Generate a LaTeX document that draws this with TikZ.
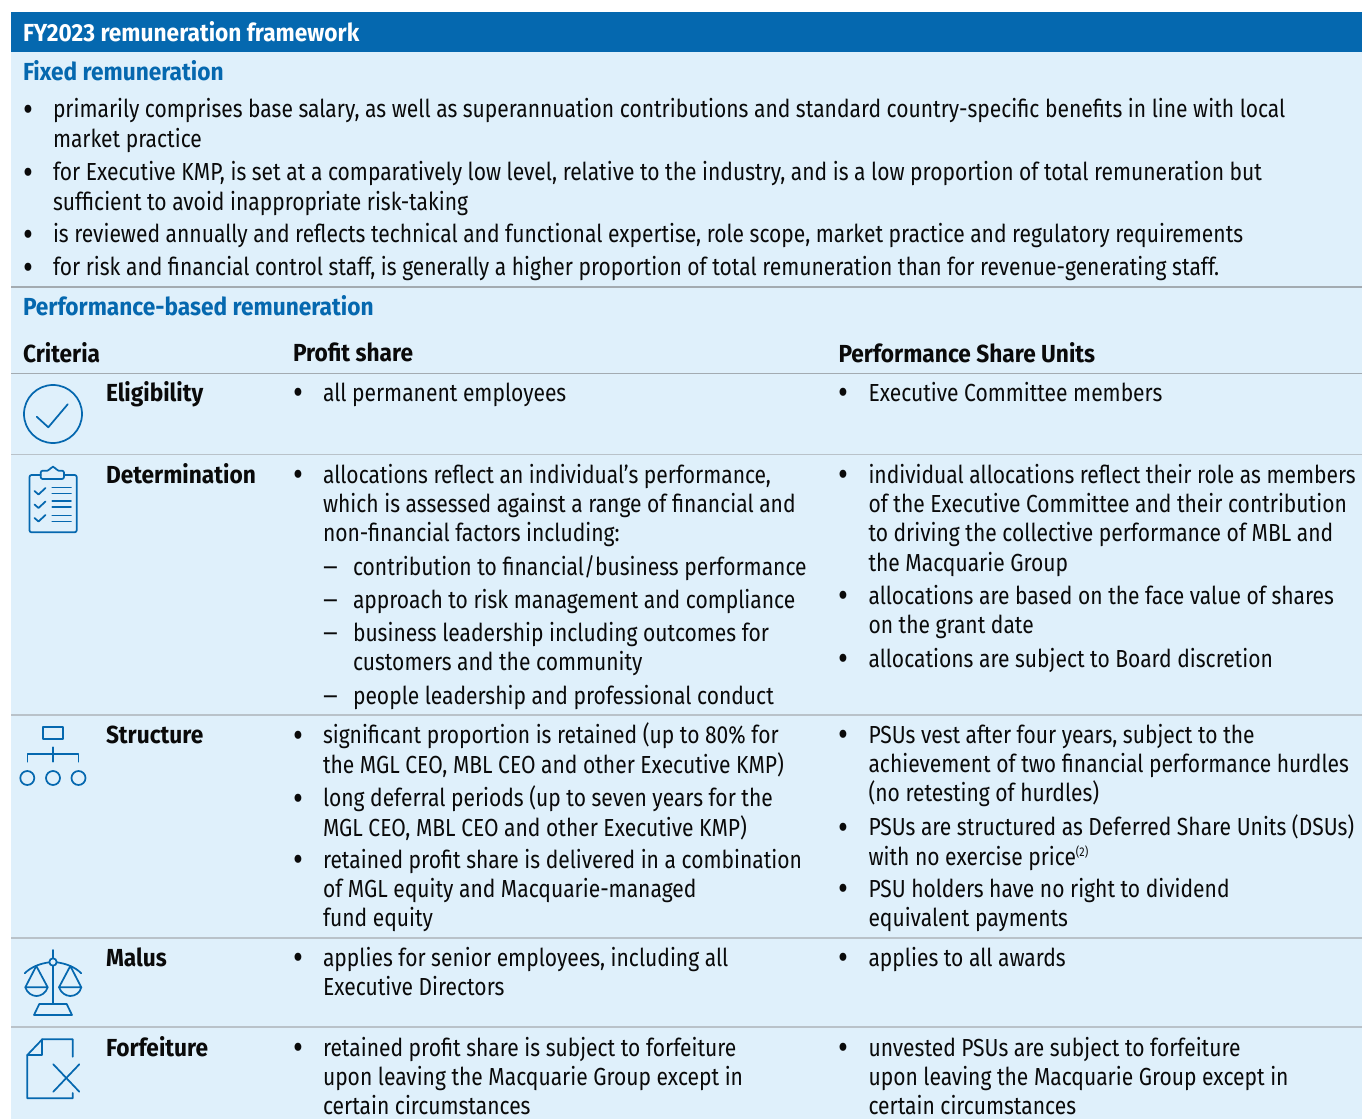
\documentclass[tikz,border=0pt]{standalone}
\usepackage{fontspec}
\usepackage{graphicx}
\setmainfont[FakeStretch=0.853,BoldFeatures={FakeStretch=0.92}]{Fira Sans}
\definecolor{hdr}{HTML}{0568AF}
\definecolor{panel}{HTML}{DFF0FB}
\definecolor{sep}{HTML}{B9C2C9}
\definecolor{sepd}{HTML}{A3ABB1}
\definecolor{ink}{HTML}{0A0A0A}
\newcommand\pbul[4]{\node[txt] (#1) at (#2,#3-19) {\rule{0pt}{15pt}\makebox[0pt][r]{\makebox[22.5pt][l]{\raisebox{-2.4pt}{\scalebox{1.45}{•}}}}#4};}
\newcommand\pdash[4]{\node[txt] (#1) at (#2,#3-19) {\rule{0pt}{15pt}\makebox[0pt][r]{\makebox[22.5pt][l]{\scalebox{1.35}[1]{–}}}#4};}
\newcommand\supnote[1]{\raisebox{6.5pt}{\fontsize{9.5pt}{10pt}\selectfont #1}}
\tikzset{
  txt/.style={anchor=north west,inner sep=0pt,outer sep=0pt,align=left,text=ink,font=\fontsize{18.5pt}{22.1pt}\selectfont},
  bhead/.style={txt,font=\fontsize{18.5pt}{22.1pt}\selectfont\bfseries},
  rule/.style={draw=sep,line width=1pt},
  ruled/.style={draw=sepd,line width=1.3pt},
  ico/.style={draw=hdr,line width=1.3pt,line join=round,line cap=round,fill=none}
}
\begin{document}
\begin{tikzpicture}[x=0.75pt,y=-0.75pt]
\useasboundingbox (0,0) rectangle (1362,1119);
\fill[white] (0,0) rectangle (1362,1119);
\fill[panel] (11,52) rectangle (1362,1119);
\fill[hdr] (11,12) rectangle (1362,52);
\node[bhead,text=white] (title) at (23,41-19) {\rule{0pt}{15pt}FY2023 remuneration framework};
\node[bhead,text=hdr] (fixed) at (23,80-19) {\rule{0pt}{15pt}Fixed remuneration};
\pbul{f1}{53}{117}{primarily comprises base salary, as well as superannuation contributions and standard country-specific benefits in line with local\\market practice}
\pbul{f2}{53}{180}{for Executive KMP, is set at a comparatively low level, relative to the industry, and is a low proportion of total remuneration but\\sufficient to avoid inappropriate risk-taking}
\pbul{f3}{53}{242}{is reviewed annually and reflects technical and functional expertise, role scope, market practice and regulatory requirements}
\pbul{f4}{53}{275}{for risk and financial control staff, is generally a higher proportion of total remuneration than for revenue-generating staff.}
\draw[ruled] (11,287) -- (1362,287);
\node[bhead,text=hdr] (perf) at (23,314-19) {\rule{0pt}{15pt}Performance-based remuneration};
\node[bhead] (hc) at (23,361-19) {\rule{0pt}{15pt}Criteria};
\node[bhead] (hp) at (293,361-19) {\rule{0pt}{15pt}Profit share};
\node[bhead] (hs) at (838.5,361-19) {\rule{0pt}{15pt}Performance Share Units};
\draw[ruled] (11,373.5) -- (1362,373.5);
% Eligibility
\node[bhead] (c1) at (106,400-19) {\rule{0pt}{15pt}Eligibility};
\pbul{e1}{323}{400.7}{all permanent employees}
\pbul{e2}{868.5}{400.7}{Executive Committee members}
\draw[rule] (11,454.5) -- (1362,454.5);
% Determination
\node[bhead] (c2) at (106,482-19) {\rule{0pt}{15pt}Determination};
\pbul{d1}{323}{482}{allocations reflect an individual’s performance,\\which is assessed against a range of financial and\\non-financial factors including:}
\pdash{d2}{353}{574}{contribution to financial/business performance}
\pdash{d3}{353}{607}{approach to risk management and compliance}
\pdash{d4}{353}{640}{business leadership including outcomes for\\customers and the community}
\pdash{d5}{353}{703}{people leadership and professional conduct}
\pbul{d6}{868.5}{482}{individual allocations reflect their role as members\\of the Executive Committee and their contribution\\to driving the collective performance of MBL and\\the Macquarie Group}
\pbul{d7}{868.5}{603}{allocations are based on the face value of shares\\on the grant date}
\pbul{d8}{868.5}{666}{allocations are subject to Board discretion}
\draw[rule] (11,715) -- (1362,715);
% Structure
\node[bhead] (c3) at (106,742-19) {\rule{0pt}{15pt}Structure};
\pbul{s1}{323}{742}{significant proportion is retained (up to 80\% for\\the MGL CEO, MBL CEO and other Executive KMP)}
\pbul{s2}{323}{805}{long deferral periods (up to seven years for the\\MGL CEO, MBL CEO and other Executive KMP)}
\pbul{s3}{323}{867}{retained profit share is delivered in a combination\\of MGL equity and Macquarie-managed\\fund equity}
\pbul{s4}{868.5}{742}{PSUs vest after four years, subject to the\\achievement of two financial performance hurdles\\(no retesting of hurdles)}
\pbul{s5}{868.5}{834}{PSUs are structured as Deferred Share Units (DSUs)\\with no exercise price\supnote{(2)}}
\pbul{s6}{868.5}{896}{PSU holders have no right to dividend\\equivalent payments}
\draw[rule] (11,938) -- (1362,938);
% Malus
\node[bhead] (c4) at (106,965-19) {\rule{0pt}{15pt}Malus};
\pbul{m1}{323}{965}{applies for senior employees, including all\\Executive Directors}
\pbul{m2}{868.5}{965}{applies to all awards}
\draw[rule] (11,1027) -- (1362,1027);
% Forfeiture
\node[bhead] (c5) at (106,1055-19) {\rule{0pt}{15pt}Forfeiture};
\pbul{r1}{323}{1055}{retained profit share is subject to forfeiture\\upon leaving the Macquarie Group except in\\certain circumstances}
\pbul{r2}{868.5}{1055}{unvested PSUs are subject to forfeiture\\upon leaving the Macquarie Group except in\\certain circumstances}
% icons
\draw[ico] (53,414) circle[radius=29];
\draw[ico] (36.7,416.7) -- (48.3,427.3) -- (67.7,404.3);
% clipboard
\draw[ico,rounded corners=1.5] (40.7,475) -- (29.5,475) -- (29.5,532.3) -- (76.7,532.3) -- (76.7,475) -- (64,475);
\draw[ico,rounded corners=1.5] (40.7,479) -- (40.7,470.7) -- (49.5,470.7) -- (51,466.7) -- (55,466.7) -- (56.5,470.7) -- (64,470.7) -- (64,479) -- cycle;
\foreach \yy in {491,504.5,518} {
  \draw[ico] (34.5,\yy) -- (38.5,\yy+3.5) -- (45.5,\yy-3);
}
\foreach \yy in {487.5,493.5,501,507,515.5,521.5} {
  \draw[ico] (52.3,\yy) -- (71,\yy);
}
% structure icon
\draw[ico] (43.3,726.7) rectangle (62.7,739);
\draw[ico] (53,747.3) -- (53,761.7);
\draw[ico] (27.5,761.7) -- (27.5,754) -- (78.5,754) -- (78.5,761.7);
\foreach \xx in {27.3,53,78.5} { \draw[ico] (\xx,778) circle[radius=7]; }
% scales
\draw[ico] (53,950) -- (53,958.3);
\draw[ico] (53,965.7) -- (53,1004);
\draw[ico] (53,962) circle[radius=3.7];
\draw[ico] (24.7,973.3) .. controls (31,967) and (40,963.5) .. (49.3,962.3);
\draw[ico] (81.3,973.3) .. controls (75,967) and (66,963.5) .. (56.7,962.3);
\draw[ico] (25.3,987.3) -- (36.3,966) -- (47.7,987.3) -- cycle;
\draw[ico] (25.3,987.3) .. controls (27,993) and (32,996) .. (36.5,996) .. controls (41,996) and (46,993) .. (47.7,987.3);
\draw[ico] (59,987.3) -- (70.3,966) -- (81.3,987.3) -- cycle;
\draw[ico] (59,987.3) .. controls (61,993) and (66,996) .. (70.3,996) .. controls (75,996) and (80,993) .. (81.3,987.3);
\draw[ico] (39.3,1004) -- (66.7,1004) -- (72,1015) -- (34,1015) -- cycle;
% document
\draw[ico] (72.7,1056.7) -- (72.7,1039.3) -- (42.3,1039.3) -- (27.3,1055) -- (27.3,1098.3) -- (72.7,1098.3) -- (72.7,1093);
\draw[ico] (42.3,1039.3) -- (42.3,1055) -- (27.3,1055);
\draw[ico] (53.3,1064.3) -- (79.3,1091.7);
\draw[ico] (79.3,1064.3) -- (53.3,1091.7);
\end{tikzpicture}
\end{document}
